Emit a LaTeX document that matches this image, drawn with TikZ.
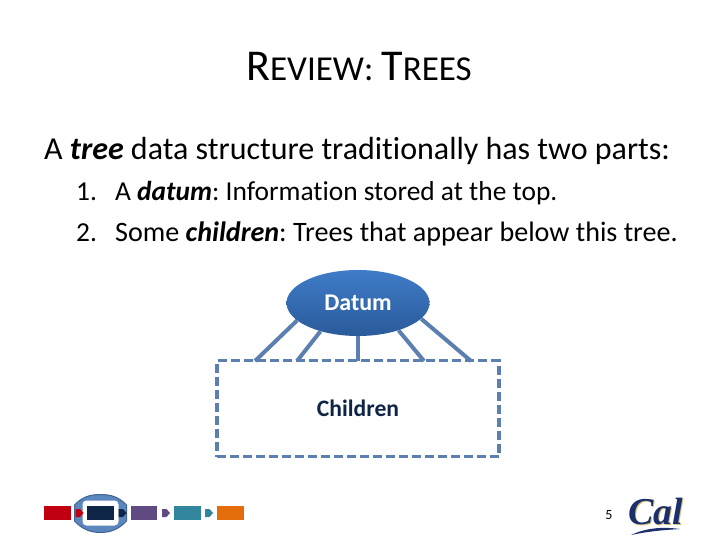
\documentclass[tikz,border=0pt]{standalone}
\usepackage{fontspec}
\setmainfont[Ligatures=NoCommon]{Carlito}
\newfontfamily\calfont{Liberation Serif}
\usetikzlibrary{shapes.geometric}
\definecolor{linkblue}{HTML}{5B7FAE}
\definecolor{ringblue}{HTML}{5C86BE}
\definecolor{ringedge}{HTML}{3F6496}
\definecolor{navy}{HTML}{0F2548}
\definecolor{topblue}{HTML}{3F7CC8}
\definecolor{botblue}{HTML}{2A5A9A}
\definecolor{cred}{HTML}{C00010}
\definecolor{cpurple}{HTML}{5F4A82}
\definecolor{cteal}{HTML}{31859C}
\definecolor{corange}{HTML}{E46C0A}
\definecolor{calgold}{HTML}{D9C27A}
\definecolor{calblue}{HTML}{1A2F6B}
\frenchspacing
\tikzset{
  txt/.style={inner sep=0pt,anchor=base west,text=black},
  link/.style={draw=linkblue,line width=4pt},
  stepbar/.style={minimum height=14pt,inner sep=0pt,draw=none},
  steptip/.pic={\fill[pic actions] (-4,-4) -- (0.5,-4) -- (4,0) -- (0.5,4) -- (-4,4) -- cycle;}
}
\begin{document}
\begin{tikzpicture}[x=1pt,y=-1pt]
\useasboundingbox[fill=white] (0,0) rectangle (720,540);
% title
\node[txt] (title) at (246,81) {\fontsize{44}{44}\selectfont R\fontsize{35}{35}\selectfont EVIEW: \fontsize{44}{44}\selectfont T\fontsize{35}{35}\selectfont REES};
% body
\node[txt] (l1) at (44,160) {\fontsize{32}{32}\selectfont A \textbf{\textit{tree}} data structure traditionally has two parts:};
\node[txt] (l2) at (76,201) {\fontsize{27.4}{28}\selectfont 1.};
\node[txt] (l2t) at (115,201) {\fontsize{27.4}{28}\selectfont A \textbf{\textit{datum}}: Information stored at the top.};
\node[txt] (l3) at (76,241) {\fontsize{27.4}{28}\selectfont 2.};
\node[txt] (l3t) at (115,241) {\fontsize{28.1}{28}\selectfont Some \textbf{\textit{children}}: Trees that appear below this tree.};
% diagram
\coordinate (c1) at (255,361);
\coordinate (c2) at (297,361);
\coordinate (c3) at (358,361);
\coordinate (c4) at (424,361);
\coordinate (c5) at (471,361);
\node[ellipse,minimum width=143pt,minimum height=66pt,inner sep=0pt,top color=topblue,bottom color=botblue,draw=none] (datum) at (358,303) {};
\node[inner sep=0pt,text=white] (datumlabel) at (358,303) {\fontsize{24}{24}\selectfont\bfseries Datum};
\draw[link] (datum.196) -- (c1);
\draw[link] (datum.217) -- (c2);
\draw[link] (datum.270) -- (c3);
\draw[link] (datum.326) -- (c4);
\draw[link] (datum.346) -- (c5);
\node[rectangle,draw=linkblue,line width=3.5pt,dash pattern=on 9pt off 4pt,minimum width=282pt,minimum height=96pt,inner sep=0pt,text=navy,font=\fontsize{23.6}{24}\selectfont\bfseries] (children) at (358,408.5) {Children};
% roadmap
\filldraw[fill=ringblue,draw=ringedge,line width=1pt] (74.5,505) .. controls (82,497) and (90,494.5) .. (100.5,494.5) .. controls (111,494.5) and (119,497) .. (126.5,505) -- (126.5,521) .. controls (119,529) and (111,532.5) .. (100.5,532.5) .. controls (90,532.5) and (82,529) .. (74.5,521) -- cycle;
\node[rectangle,rounded corners=4pt,minimum width=36pt,minimum height=25pt,inner sep=0pt,fill=white] (ringin) at (100.5,513) {};
\node[stepbar,minimum width=27pt,fill=cred] (s1) at (57.5,513) {};
\node[stepbar,minimum width=27pt,fill=navy] (s2) at (100.5,513) {};
\node[stepbar,minimum width=26pt,fill=cpurple] (s3) at (144,513) {};
\node[stepbar,minimum width=27pt,fill=cteal] (s4) at (187.5,513) {};
\node[stepbar,minimum width=27pt,fill=corange] (s5) at (230.5,513) {};
\pic[fill=cred] at (79.5,513) {steptip};
\pic[fill=navy] at (122.5,513) {steptip};
\pic[fill=cpurple] at (166,513) {steptip};
\pic[fill=cteal] at (209,513) {steptip};
% page number
\node[inner sep=0pt,text=black] (page) at (609,515) {\fontsize{14}{14}\selectfont 5};
% logo
\node[inner sep=0pt,text=calgold] (calshadow) at (656.5,512.5) {\fontsize{38}{38}\selectfont\calfont\bfseries\itshape Cal};
\node[inner sep=0pt,text=calblue] (cal) at (656,512) {\fontsize{38}{38}\selectfont\calfont\bfseries\itshape Cal};
\fill[calblue] (631,535) .. controls (648,527) and (665,527) .. (680,529) .. controls (665,530) and (650,531) .. (631,535) -- cycle;
\end{tikzpicture}
\end{document}
